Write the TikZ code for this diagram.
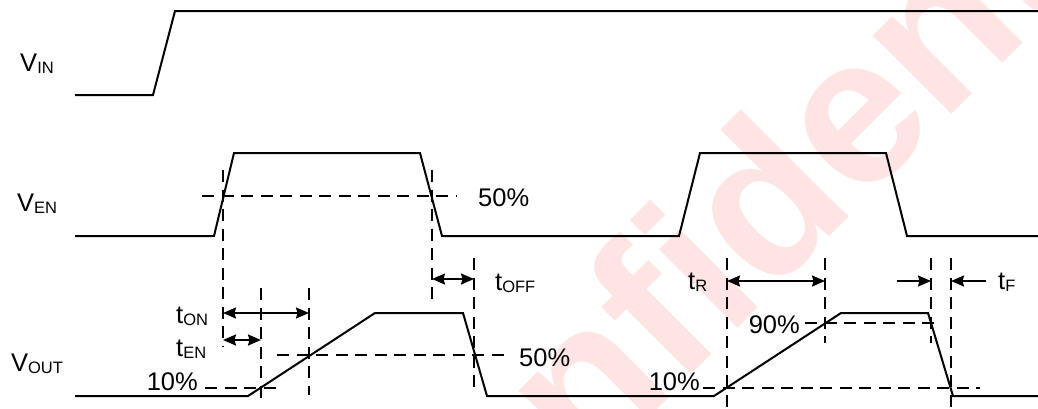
\documentclass[tikz,border=0pt]{standalone}
\usepackage{fontspec}
\setmainfont{Liberation Sans}
\usetikzlibrary{arrows.meta}
\definecolor{wmpink}{RGB}{255,228,228}
\newcommand{\sigsub}[2]{#1\raisebox{-2.5pt}{\fontsize{16.5}{18}\selectfont #2}}
\begin{document}
\begin{tikzpicture}[x=1pt,y=-1pt,
  wave/.style={line width=2pt, line join=miter},
  guide/.style={line width=1.8pt, dash pattern=on 12pt off 7.5pt},
  dim/.style={line width=1.8pt, {Stealth[length=13pt,width=11pt,inset=1.5pt]}-{Stealth[length=13pt,width=11pt,inset=1.5pt]}},
  dimr/.style={line width=1.8pt, -{Stealth[length=13pt,width=11pt,inset=1.5pt]}},
  lbl/.style={inner sep=0pt, font=\fontsize{25.5}{30}\selectfont}]
\useasboundingbox (0,0) rectangle (1038,408);
\fill[white] (0,0) rectangle (1038,408);
% watermark
\begin{scope}
  \clip (0,0) rectangle (1038,408);
  \node[rotate=45, text=wmpink, inner sep=0pt, font=\fontsize{210}{210}\selectfont\bfseries] (wmark) at (765,195) {Confidential};
\end{scope}
% signal labels
\node[lbl, anchor=base] (vin) at (37,71) {\sigsub{V}{IN}};
\node[lbl, anchor=base] (ven) at (37,211) {\sigsub{V}{EN}};
\node[lbl, anchor=base] (vout) at (37,371) {\sigsub{V}{OUT}};
% waveforms
\draw[wave] (75,95) -- (153,95) -- (175,11) -- (1038,11);
\draw[wave] (75,236) -- (214,236) -- (234,153) -- (420,153) -- (442,236) -- (679,236) -- (700,153) -- (886,153) -- (907,236) -- (1038,236);
\draw[wave] (75,396) -- (248,396) -- (375,313) -- (463,313) -- (487,396) -- (714,396) -- (841,313) -- (928,313) -- (953,396) -- (1038,396);
% guide coordinates
\coordinate (h50a) at (202,196); \coordinate (h50b) at (457,196);
\coordinate (vA1) at (223,170); \coordinate (vA2) at (223,347);
\coordinate (vB1) at (432,170); \coordinate (vB2) at (432,300);
\coordinate (vC1) at (261,288); \coordinate (vC2) at (261,405);
\coordinate (vD1) at (309,288); \coordinate (vD2) at (309,395);
\coordinate (vE1) at (474,258); \coordinate (vE2) at (474,388);
\coordinate (o50a) at (277,355); \coordinate (o50b) at (507,355);
\coordinate (o10a) at (205,388); \coordinate (o10b) at (280,388);
\coordinate (p90a) at (805,323); \coordinate (p90b) at (940,323);
\coordinate (p10a) at (703,388); \coordinate (p10b) at (980,388);
\coordinate (vF1) at (727,258); \coordinate (vF2) at (727,408);
\coordinate (vG1) at (825,258); \coordinate (vG2) at (825,343);
\coordinate (vH1) at (931,258); \coordinate (vH2) at (931,343);
\coordinate (vI1) at (951,258); \coordinate (vI2) at (951,408);
\foreach \a/\b in {h50a/h50b,vA1/vA2,vB1/vB2,vC1/vC2,vD1/vD2,vE1/vE2,o50a/o50b,o10a/o10b,p90a/p90b,p10a/p10b,vF1/vF2,vG1/vG2,vH1/vH2,vI1/vI2}
  \draw[guide] (\a) -- (\b);
% level labels
\node[lbl, anchor=base west] (l50a) at (478,206) {50\%};
\node[lbl, anchor=base west] (l50b) at (519,366) {50\%};
\node[lbl, anchor=base east] (l10a) at (198,390) {10\%};
\node[lbl, anchor=base east] (l10b) at (700,390) {10\%};
\node[lbl, anchor=base east] (l90) at (800,333) {90\%};
% timing arrows
\coordinate (on1) at (223,313); \coordinate (on2) at (309,313);
\coordinate (en1) at (223,340); \coordinate (en2) at (261,340);
\coordinate (off1) at (432,279); \coordinate (off2) at (474,279);
\coordinate (r1) at (727,281); \coordinate (r2) at (825,281);
\coordinate (fa) at (897,281); \coordinate (fb) at (931,281);
\coordinate (fc) at (986,281); \coordinate (fd) at (951,281);
\draw[dim] (on1) -- (on2);
\draw[dim] (en1) -- (en2);
\draw[dim] (off1) -- (off2);
\draw[dim] (r1) -- (r2);
\draw[dimr] (fa) -- (fb);
\draw[dimr] (fc) -- (fd);
% timing labels
\node[lbl, anchor=base west] (ton) at (176,323) {\sigsub{t}{ON}};
\node[lbl, anchor=base west] (ten) at (176,356) {\sigsub{t}{EN}};
\node[lbl, anchor=base west] (toff) at (495,290) {\sigsub{t}{OFF}};
\node[lbl, anchor=base west] (tr) at (688,289) {\sigsub{t}{R}};
\node[lbl, anchor=base west] (tf) at (998,289) {\sigsub{t}{F}};
\end{tikzpicture}
\end{document}
